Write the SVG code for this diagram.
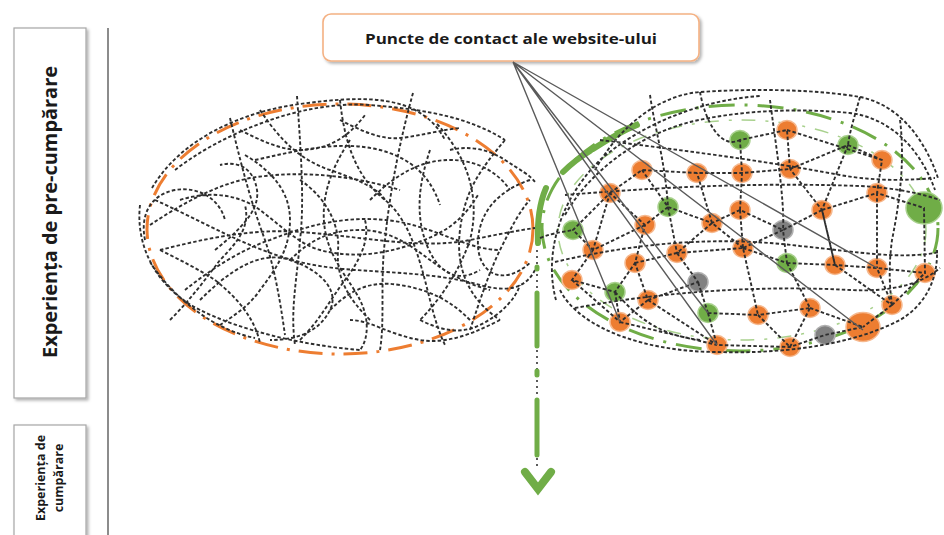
<svg xmlns="http://www.w3.org/2000/svg" width="944" height="535" viewBox="0 0 944 535">
<defs>
<filter id="sh" x="-10%" y="-10%" width="130%" height="130%"><feDropShadow dx="2" dy="2" stdDeviation="1.5" flood-color="#000" flood-opacity="0.3"/></filter>
<style>
.box{fill:#fff;stroke:#a6a6a6;stroke-width:1.2}
.lbl{font-family:"Open Sans","DejaVu Sans",sans-serif;font-weight:700;fill:#1a1a1a}
.net{fill:none;stroke:#2e2e2e;stroke-width:1.9;stroke-dasharray:3.5 2.2}
.fan{fill:none;stroke:#5a5a5a;stroke-width:1.4}
.o{fill:#ed7d31;stroke:#f6b98f;stroke-width:1.5}
.g{fill:#70ad47;stroke:#a9d18e;stroke-width:1.5}
.y{fill:#808080;stroke:#b0b0b0;stroke-width:1.5}
</style>
</defs>
<rect width="944" height="535" fill="#fff"/>

<g id="pre-purchase">
<rect class="box" x="14" y="28" width="72" height="370" filter="url(#sh)"/>
<text class="lbl" font-size="20" font-weight="600" transform="translate(57,212) rotate(-90)" text-anchor="middle" textLength="292" lengthAdjust="spacingAndGlyphs">Experiența de pre-cumpărare</text>
</g>
<g id="purchase">
<rect class="box" x="14" y="425" width="72" height="120" filter="url(#sh)"/>
<text class="lbl" font-size="12.5" font-weight="600" transform="translate(45,478) rotate(-90)" text-anchor="middle">Experiența de</text>
<text class="lbl" font-size="12.5" font-weight="600" transform="translate(63,478) rotate(-90)" text-anchor="middle">cumpărare</text>
</g>
<line x1="108" y1="28" x2="108" y2="535" stroke="#8c8c8c" stroke-width="2"/>

<g id="touchpoints-label">
<rect x="323" y="14" width="376" height="47" rx="8" fill="#fff" stroke="#f4b183" stroke-width="1.6" filter="url(#sh)"/>
<text class="lbl" font-size="15" font-weight="600" x="511" y="44" text-anchor="middle" textLength="292" lengthAdjust="spacingAndGlyphs">Puncte de contact ale website-ului</text>
</g>

<g id="left-cluster">
<ellipse cx="340" cy="229" rx="193" ry="125" fill="none" stroke="#ed7d31" stroke-width="3" stroke-dasharray="24 9 3 9"/>
</g>

<g id="right-cluster">
<ellipse cx="740" cy="228" rx="198" ry="123" fill="none" stroke="#70ad47" stroke-width="3" stroke-dasharray="26 10 3 10"/>
<ellipse cx="742" cy="230" rx="184" ry="110" fill="none" stroke="#a9d18e" stroke-width="1.5" stroke-dasharray="14 10 3 10"/>
<path d="M538,243 C537,220 540,202 546,188 M563,172 C572,163 580,157 590,151 M593,149 C607,140 622,131 637,125" fill="none" stroke="#70ad47" stroke-width="6" stroke-linecap="round"/>
<ellipse class="o" cx="787" cy="130" rx="10" ry="9.5"/>
<ellipse class="o" cx="642" cy="170" rx="10" ry="9.5"/>
<ellipse class="o" cx="610" cy="193" rx="10" ry="9.5"/>
<ellipse class="o" cx="697" cy="173" rx="10" ry="9.5"/>
<ellipse class="o" cx="742" cy="173" rx="10" ry="9.5"/>
<ellipse class="o" cx="790" cy="169" rx="10" ry="9.5"/>
<ellipse class="o" cx="882" cy="160" rx="10" ry="9.5"/>
<ellipse class="o" cx="877" cy="193" rx="10" ry="9.5"/>
<ellipse class="o" cx="740" cy="210" rx="10" ry="9.5"/>
<ellipse class="o" cx="822" cy="210" rx="10" ry="9.5"/>
<ellipse class="o" cx="645" cy="225" rx="10" ry="9.5"/>
<ellipse class="o" cx="712" cy="223" rx="10" ry="9.5"/>
<ellipse class="o" cx="593" cy="250" rx="10" ry="9.5"/>
<ellipse class="o" cx="635" cy="263" rx="10" ry="9.5"/>
<ellipse class="o" cx="677" cy="253" rx="10" ry="9.5"/>
<ellipse class="o" cx="743" cy="248" rx="10" ry="9.5"/>
<ellipse class="o" cx="835" cy="265" rx="10" ry="9.5"/>
<ellipse class="o" cx="877" cy="268" rx="10" ry="9.5"/>
<ellipse class="o" cx="925" cy="273" rx="10" ry="9.5"/>
<ellipse class="o" cx="572" cy="280" rx="10" ry="9.5"/>
<ellipse class="o" cx="648" cy="300" rx="10" ry="9.5"/>
<ellipse class="o" cx="810" cy="308" rx="10" ry="9.5"/>
<ellipse class="o" cx="892" cy="305" rx="10" ry="9.5"/>
<ellipse class="o" cx="758" cy="315" rx="10" ry="9.5"/>
<ellipse class="o" cx="620" cy="322" rx="10" ry="9.5"/>
<ellipse class="o" cx="717" cy="345" rx="10" ry="9.5"/>
<ellipse class="o" cx="790" cy="347" rx="10" ry="9.5"/>
<ellipse class="o" cx="863" cy="327" rx="17" ry="14.5"/>
<ellipse class="g" cx="740" cy="140" rx="10" ry="9.5"/>
<ellipse class="g" cx="848" cy="145" rx="10" ry="9.5"/>
<ellipse class="g" cx="668" cy="207" rx="10" ry="9.5"/>
<ellipse class="g" cx="573" cy="230" rx="10" ry="9.5"/>
<ellipse class="g" cx="787" cy="263" rx="10" ry="9.5"/>
<ellipse class="g" cx="615" cy="292" rx="10" ry="9.5"/>
<ellipse class="g" cx="708" cy="313" rx="10" ry="9.5"/>
<ellipse class="g" cx="924" cy="208" rx="18" ry="16"/>
<ellipse class="y" cx="783" cy="230" rx="10" ry="9.5"/>
<ellipse class="y" cx="698" cy="282" rx="10" ry="9.5"/>
<ellipse class="y" cx="825" cy="335" rx="10" ry="9.5"/>
</g>

<g id="connectors">
<path class="net" d="M152,188 C180,140 240,112 300,104 C360,96 420,92 445,140
M175,170 C220,135 300,100 370,105 C430,110 470,118 505,140
M150,225 C180,205 215,185 250,178 C300,170 350,175 400,190
M140,205 C135,250 160,290 200,310 C240,330 300,345 360,350
M160,250 C200,240 250,228 300,232 C360,236 420,250 470,240 C500,234 520,230 535,228
M155,200 C200,220 250,250 300,262 C350,275 420,268 480,285 C505,292 525,290 535,270
M230,118 C240,160 250,200 265,240 C275,270 280,300 285,335
M297,96 C300,140 305,200 300,240 C297,280 290,310 295,345
M255,160 C300,150 340,140 380,150 C410,158 430,175 440,205
M340,100 C345,150 360,180 385,200 C410,220 420,260 430,300 C435,320 440,335 445,345
M413,93 C400,140 390,190 385,240 C380,280 385,320 380,350
M437,124 C470,160 480,200 470,240 C460,270 440,300 420,320
M505,140 C480,170 465,190 460,230 C455,270 470,300 500,320
M530,180 C500,190 480,210 478,240 C476,270 500,290 531,262
M200,300 C230,270 260,250 290,260 C320,270 340,290 330,310 C320,330 300,340 270,340
M185,290 C210,270 240,250 270,240 C320,220 360,215 400,222 C440,230 470,250 500,250
M215,250 C240,230 260,210 257,190 C254,170 240,160 220,165
M330,310 C350,290 370,280 400,285 C430,290 450,300 470,320
M300,180 C330,200 340,230 338,250 C336,280 350,300 370,320
M260,110 C280,140 300,160 330,170 C360,180 380,190 385,200
M450,150 C470,145 490,150 505,160 C520,170 530,175 535,182
M245,155 C270,170 290,190 290,220 C290,250 275,270 260,290 C250,305 235,315 220,325
M350,140 C330,170 320,200 325,230 C330,260 350,280 360,300 C370,320 368,340 360,350
M420,320 C440,330 460,335 480,325 C500,315 515,300 520,285
M180,200 C210,190 240,195 260,210 C280,225 300,245 320,250 C350,258 380,255 410,245 C440,235 460,225 478,195
M430,150 C420,180 415,210 425,240 C435,270 455,285 480,270
M170,320 C190,300 205,280 220,260 C240,240 250,225 245,205
M300,340 C320,320 330,300 345,280 C360,260 370,240 365,220
M470,330 C480,300 490,270 500,250 C510,230 520,210 530,200
M500,320 C480,330 450,345 420,340 C390,335 370,320 350,320
M160,250 C180,260 200,270 215,280 C240,300 255,320 260,343
M370,200 C395,175 420,160 450,160 C480,160 500,175 510,190
M290,260 C310,240 330,230 360,230 C390,230 410,245 430,260 C450,275 470,285 490,290
M340,120 C360,130 380,140 400,138 C420,136 440,130 460,128
M240,130 C260,140 280,150 300,150 C330,150 350,135 365,115
M145,240 C140,215 150,195 175,190 C200,186 220,200 225,220
M150,262 C175,300 215,330 255,338"/>
<path class="net" d="M610,193 L642,170 L697,173 L742,173 L790,169 L787,130 L740,140 L742,173
M790,169 L848,145 L882,160 L877,193 L924,208 L925,273 L877,268 L835,265 L822,210 L790,169
M822,210 L783,230 L740,210 L742,173 M740,210 L712,223 L668,207 L642,170
M668,207 L645,225 L610,193 M645,225 L593,250 L573,230 L610,193 M593,250 L572,280 L615,292 L635,263 L645,225
M635,263 L677,253 L712,223 M677,253 L698,282 L648,300 L635,263 M648,300 L620,322 L615,292
M708,313 L717,345 M708,313 L698,282 M708,313 L758,315 L743,248 L677,253 M743,248 L712,223
M743,248 L787,263 L783,230 M787,263 L835,265 M787,263 L810,308 L758,315 M810,308 L863,327 L825,335 L790,347 L717,345
M790,347 L810,308 M892,305 L863,327 M892,305 L877,268 M892,305 L925,273 M822,210 L877,193 L877,268
M835,265 L892,305 M648,300 L717,345 M758,315 L790,347 M610,193 L593,250 M572,280 L620,322
M787,130 L882,160 M740,210 L743,248 M712,223 L697,173 M668,207 L677,253 M783,230 L743,248
M822,210 L835,265 M848,145 L822,210 M620,322 L717,345
M595,170 C620,125 660,95 700,92 C760,88 820,90 860,97 C900,105 925,140 938,178
M565,215 C590,170 640,135 690,122 C740,110 800,108 850,113 C890,118 920,148 935,190
M650,95 C655,130 665,160 668,207
M700,92 C705,120 720,150 740,140
M860,97 C855,115 850,130 848,145
M565,195 C650,188 750,182 860,186 C900,188 925,195 940,200
M555,262 C640,242 720,236 800,246 C860,252 900,260 940,252
M575,308 C660,292 760,285 850,290 C890,292 920,285 940,268
M600,140 C680,150 760,160 840,175 C880,182 910,180 935,178
M560,290 C580,330 650,352 717,352 C780,354 850,346 900,320 C925,305 938,280 937,250
M556,300 C545,260 555,205 600,160 C640,125 700,100 760,96
M770,100 C775,140 785,200 783,230
M900,120 C905,160 900,200 892,240 C888,270 890,290 892,305
M615,292 C640,320 660,335 700,340
M540,238 C555,232 565,232 573,230"/>
<path class="fan" d="M513,62 L620,322 M513,62 L717,345 M513,62 L708,313 M513,62 L863,330 M513,62 L877,268"/>
</g>

<g id="flow-arrow">
<path d="M537,250 V290 M537,350 V397 M537,458 V467" fill="none" stroke="#333" stroke-width="1.6" stroke-dasharray="2 4"/>
<path d="M537,293 V346 M537,400 V455" fill="none" stroke="#70ad47" stroke-width="5" stroke-linecap="round"/>
<path d="M537,267 v2 M537,371 v4" fill="none" stroke="#70ad47" stroke-width="5" stroke-linecap="round"/>
<path d="M525,472 L538,489 L551,472" fill="none" stroke="#70ad47" stroke-width="8" stroke-linecap="round" stroke-linejoin="miter"/>
</g>
</svg>
